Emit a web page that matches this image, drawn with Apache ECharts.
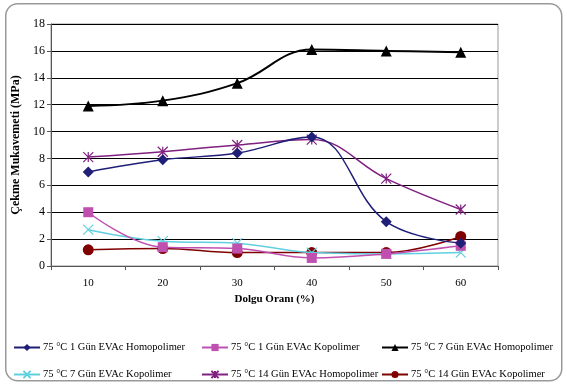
<!DOCTYPE html>
<html><head><meta charset="utf-8">
<script src="https://cdn.jsdelivr.net/npm/echarts@6/dist/echarts.min.js"></script>
<style>html,body{margin:0;padding:0;background:#fff}#c{width:567px;height:385px}</style>
</head><body><div id="c"></div>
<script>
const categories = ['10','20','30','40','50','60'];
const names = [
  '75 °C 1 Gün EVAc Homopolimer',
  '75 °C 1 Gün EVAc Kopolimer',
  '75 °C 7 Gün EVAc Homopolimer',
  '75 °C 7 Gün EVAc Kopolimer',
  '75 °C 14 Gün EVAc Homopolimer',
  '75 °C 14 Gün EVAc Kopolimer'
];
const s1 = [7.0, 7.9, 8.4, 9.6, 3.3, 1.7];
const s2 = [4.0, 1.4, 1.3, 0.6, 0.9, 1.5];
const s3 = [11.9, 12.3, 13.6, 16.1, 16.0, 15.9];
const s4 = [2.7, 1.85, 1.7, 1.0, 0.9, 1.0];
const s5 = [8.1, 8.5, 9.0, 9.4, 6.5, 4.2];
const s6 = [1.2, 1.3, 1.0, 1.0, 1.0, 2.2];
const yTicks = [0, 2, 4, 6, 8, 10, 12, 14, 16, 18];

const colors = ['#1f1f78', '#c050b0', '#000000', '#60d0e0', '#802080', '#800000'];
const symbols = ['diamond', 'rect', 'triangle', 'path://M0,0L10,10M10,0L0,10', 'path://M0,0L10,10M10,0L0,10M5,0L5,10', 'circle'];
const sizes = [11, 10, 11, 10, 10, 11];
const datas = [s1, s2, s3, s4, s5, s6];
const font = 'Liberation Serif';

const series = datas.map((d, i) => ({
  name: names[i], type: 'line', data: d, smooth: 0.4,
  symbol: symbols[i], symbolSize: sizes[i],
  lineStyle: { color: colors[i], width: i === 2 ? 2 : 1.5 },
  itemStyle: { color: colors[i], borderColor: colors[i], borderWidth: (i === 3 || i === 4) ? 1.2 : 0 },
  z: 10 - i
}));

const legendPos = [[8, 337], [196, 337], [376, 337], [8, 364], [196, 364], [376, 364]];
const legends = names.map((n, i) => ({
  data: [n], left: legendPos[i][0], top: legendPos[i][1], itemWidth: 26, itemHeight: 9, itemGap: 0,
  textStyle: { fontFamily: font, fontSize: 10.5, color: '#000', padding: [0, 0, 0, -2] }
}));

const chart = echarts.init(document.getElementById('c'));
chart.setOption({
  animation: false,
  backgroundColor: '#fff',
  graphic: [{
    type: 'rect', left: 5, top: 3, z: -10,
    shape: { width: 556, height: 377, r: 12 },
    style: { fill: '#fff', stroke: '#999', lineWidth: 1.5 }
  }],
  grid: { left: 51, right: 69, top: 24, bottom: 119, show: true, borderColor: '#999', borderWidth: 1 },
  xAxis: {
    type: 'category', data: categories, boundaryGap: true,
    name: 'Dolgu Oranı (%)', nameLocation: 'middle', nameGap: 27,
    nameTextStyle: { fontFamily: font, fontWeight: 'bold', fontSize: 11, color: '#000' },
    axisLine: { lineStyle: { color: '#555' } },
    axisTick: { show: true, alignWithLabel: false, length: 4, lineStyle: { color: '#555' } },
    axisLabel: { fontFamily: font, fontSize: 11, color: '#000', margin: 12 }
  },
  yAxis: {
    type: 'value', min: 0, max: 18, interval: 2,
    name: 'Çekme Mukavemeti (MPa)', nameLocation: 'middle', nameGap: 27,
    nameTextStyle: { fontFamily: font, fontWeight: 'bold', fontSize: 12, color: '#000' },
    axisLine: { show: true, lineStyle: { color: '#555' } },
    axisTick: { show: true, length: 4, lineStyle: { color: '#555' } },
    axisLabel: { fontFamily: font, fontSize: 12, color: '#000', margin: 6,
      formatter: v => yTicks.includes(v) ? String(v) : '' },
    splitLine: { lineStyle: { color: '#000', width: 1 } }
  },
  legend: legends,
  series
});
</script></body></html>
